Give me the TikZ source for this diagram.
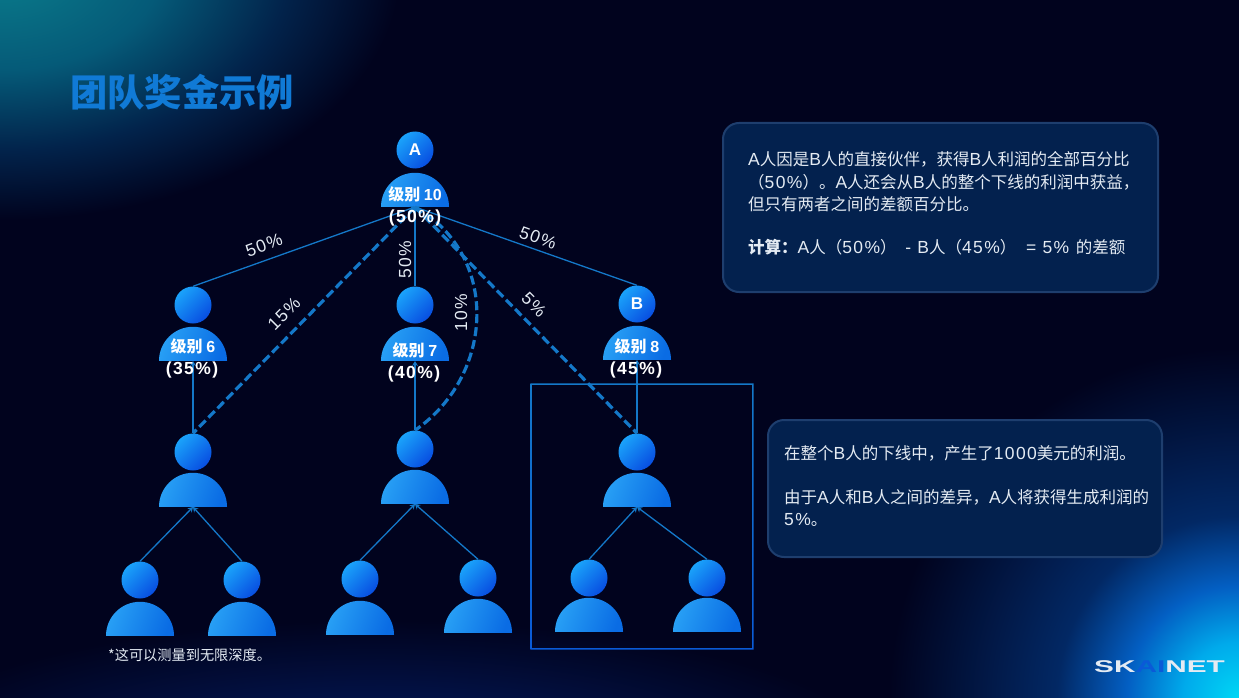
\documentclass[tikz,border=0pt]{standalone}
\usepackage{fontspec}
\usepackage{graphicx}
\usepackage{xcolor}
\usepackage{tikz}
\usetikzlibrary{shapes.geometric, arrows.meta, positioning}
\setmainfont{Noto Sans CJK SC}
\newfontfamily\latfont[Scale=1.06, LetterSpace=8]{Liberation Sans}
\newfontfamily\logofont{Liberation Sans}
\newcommand{\lat}[1]{{\latfont #1}}
\definecolor{pagenavy}{RGB}{1, 3, 30}
\definecolor{linkblue}{RGB}{20, 120, 200}
\definecolor{titleblue}{RGB}{16, 122, 214}
\definecolor{panelfill}{RGB}{3, 33, 78}
\definecolor{panelline}{RGB}{30, 62, 110}
\definecolor{softwhite}{RGB}{228, 235, 243}
\definecolor{headlight}{RGB}{26, 162, 250}
\definecolor{headdark}{RGB}{8, 78, 225}
\definecolor{bodylight}{RGB}{40, 160, 245}
\definecolor{bodydark}{RGB}{10, 108, 228}
\definecolor{logoblue}{RGB}{10, 90, 215}
\definecolor{tealcore}{RGB}{10, 125, 140}
\definecolor{tealmid}{RGB}{5, 90, 120}
\definecolor{tealend}{RGB}{2, 35, 75}
\definecolor{cornercore}{RGB}{0, 215, 245}
\definecolor{cornerone}{RGB}{0, 170, 235}
\definecolor{cornertwo}{RGB}{3, 95, 195}
\definecolor{cornerend}{RGB}{2, 40, 100}
\definecolor{floorcore}{RGB}{6, 40, 120}
\definecolor{floorend}{RGB}{2, 18, 70}
\pgfdeclareradialshading{glowteal}{\pgfpoint{0bp}{0bp}}{
    color(0bp)=(tealcore);
    color(10bp)=(tealmid);
    color(18bp)=(tealend);
    color(25bp)=(pagenavy);
    color(50bp)=(pagenavy)}
\pgfdeclareradialshading{glowcorner}{\pgfpoint{0bp}{0bp}}{
    color(0bp)=(cornercore);
    color(4bp)=(cornerone);
    color(8bp)=(cornertwo);
    color(13bp)=(cornerend);
    color(25bp)=(pagenavy);
    color(50bp)=(pagenavy)}
\pgfdeclareradialshading{glowfloor}{\pgfpoint{0bp}{0bp}}{
    color(0bp)=(floorcore);
    color(12bp)=(floorend);
    color(25bp)=(pagenavy);
    color(50bp)=(pagenavy)}

\begin{document}
\begin{tikzpicture}[
    x=1pt, y=-1pt,
    headnode/.style={circle, minimum size=37pt, inner sep=0pt, top color=headlight,
                     bottom color=headdark, shading angle=45, text=white,
                     font=\logofont\fontsize{17}{17}\selectfont\bfseries},
    bodynode/.style={semicircle, minimum width=68pt, inner sep=0pt, anchor=chord center,
                     top color=bodylight, bottom color=bodydark, shading angle=70},
    link/.style={draw=linkblue, line width=1.3pt},
    dashlink/.style={draw=linkblue, line width=3.2pt, dash pattern=on 9pt off 4pt},
    tip/.style={{Stealth[length=5pt, width=6pt]}-},
    panel/.style={draw=panelline, line width=2pt, fill=panelfill, rounded corners=16pt, anchor=north west},
    panelword/.style={anchor=north west, inner sep=0pt, align=left, text=softwhite,
                      font=\fontsize{16.5}{22.4}\selectfont},
    pct/.style={text=softwhite, inner sep=0pt, font=\latfont\fontsize{16.5}{16.5}\selectfont},
    levelword/.style={text=white, inner sep=0pt, font=\fontsize{16}{16}\selectfont\bfseries},
    shareword/.style={text=white, inner sep=0pt, font=\latfont\fontsize{16.5}{16.5}\selectfont\bfseries}
]
    % Page and glows
    \useasboundingbox (0,0) rectangle (1239,698);
    \fill[pagenavy] (0,0) rectangle (1239,698);
    \begin{scope}
        \clip (0,0) rectangle (1239,698);
        \shade[shading=glowteal] (0,-30) ellipse [x radius=400pt, y radius=250pt];
        \shade[shading=glowfloor] (380,770) ellipse [x radius=520pt, y radius=150pt];
        \shade[shading=glowcorner] (1239,698) ellipse [x radius=350pt, y radius=350pt];
    \end{scope}

    % Title
    \node[anchor=west, inner sep=0pt, text=titleblue, font=\fontsize{37.3}{37.3}\selectfont\bfseries] (title) at (70,92) {团队奖金示例};

    % Panels
    \node[panel, minimum width=435pt, minimum height=169pt] (topcard) at (722,122) {};
    \node[panel, minimum width=394pt, minimum height=137pt] (lowcard) at (767,419) {};
    \node[panelword] (toptext) at (748,151.5) {
        \lat{A}人因是\lat{B}人的直接伙伴，获得\lat{B}人利润的全部百分比\\
        （\lat{50\%}）。\lat{A}人还会从\lat{B}人的整个下线的利润中获益，\\
        但只有两者之间的差额百分比。\\[20.8pt]
        \textbf{计算：}\lat{A}人（\lat{50\%}）\hspace{5pt} \lat{- B}人（\lat{45\%}）\hspace{6pt} \lat{= 5\%}\hspace{3pt} 的差额
    };
    \node[panelword] (lowtext) at (784,445) {
        在整个\lat{B}人的下线中，产生了\lat{1000}美元的利润。\\[21.6pt]
        由于\lat{A}人和\lat{B}人之间的差异，\lat{A}人将获得生成利润的\\
        \lat{5\%}。
    };

    % Frame round the B branch
    \node[minimum width=223pt, minimum height=266pt, inner sep=0pt] (branchbox) at (642,516.5) {};
    \shade[top color=linkblue, bottom color=logoblue, even odd rule]
        (branchbox.north west) rectangle (branchbox.south east)
        ([shift={(1.5pt,-1.5pt)}]branchbox.north west) rectangle ([shift={(-1.5pt,1.5pt)}]branchbox.south east);

    % People: name / x / head y / body base / letter
    \foreach \who/\px/\py/\pb/\letter in {
        a/415/150/207/A, six/193/305/361/{}, seven/415/305/361/{}, bee/637/304/360/B,
        sixkid/193/452/507/{}, sevenkid/415/449/504/{}, beekid/637/452/507/{},
        ga/140/580/636/{}, gb/242/580/636/{}, gc/360/579/635/{}, gd/478/578/633/{},
        ge/589/578/632/{}, gf/707/578/632/{}}{
        \node[bodynode] (\who-base) at (\px,\pb) {};
        \node[headnode] (\who) at (\px,\py) {\letter};
    }

    % Links
    \draw[link, tip] (a-base.chord center) -- (six.north);
    \draw[link, tip] (a-base.chord center) -- (seven.north);
    \draw[link, tip] (a-base.chord center) -- (bee.north);
    \draw[link, tip] (six-base.chord center) -- (sixkid.north);
    \draw[link, tip] (seven-base.chord center) -- (sevenkid.north);
    \draw[link, tip] (bee-base.chord center) -- (beekid.north);
    \foreach \upper/\kid in {sixkid/ga, sixkid/gb, sevenkid/gc, sevenkid/gd, beekid/ge, beekid/gf}
        \draw[link, tip] (\upper-base.chord center) -- (\kid.north);

    % Overrides
    \draw[dashlink] (a-base.chord center) -- (sixkid.north);
    \draw[dashlink] (a-base.chord center) -- (beekid.north);
    \draw[dashlink] (a-base.chord center) .. controls (500,255) and (495,375) .. (sevenkid.north);

    % Level labels
    \node[levelword] (alevel) at (415,194.5) {级别 \logofont 10};
    \node[shareword] (ashare) at (415,218) {(50\%)};
    \node[levelword] (sixlevel) at (193,346.5) {级别 \logofont 6};
    \node[shareword] (sixshare) at (192,370) {(35\%)};
    \node[levelword] (sevenlevel) at (415,350.5) {级别 \logofont 7};
    \node[shareword] (sevenshare) at (414,374) {(40\%)};
    \node[levelword] (beelevel) at (637,346.5) {级别 \logofont 8};
    \node[shareword] (beeshare) at (636,370) {(45\%)};

    % Link percentages
    \node[pct, rotate=20] (pctsix) at (264,245) {50\%};
    \node[pct, rotate=90] (pctseven) at (405,260) {50\%};
    \node[pct, rotate=-20] (pctbee) at (538,238) {50\%};
    \node[pct, rotate=45] (pctsixkid) at (284,314) {15\%};
    \node[pct, rotate=90] (pctsevenkid) at (461,313) {10\%};
    \node[pct, rotate=-45] (pctbeekid) at (534,305) {5\%};

    % Footnote and logo
    \node[anchor=west, inner sep=0pt, text=softwhite, font=\fontsize{14.2}{14.2}\selectfont] (footnote) at (108,655) {*这可以测量到无限深度。};
    \node[anchor=west, inner sep=0pt, font=\logofont\fontsize{17}{17}\selectfont\bfseries] (logo) at (1094,667)
        {\scalebox{1.75}[1]{\textcolor{softwhite}{SK}\textcolor{logoblue}{AI}\textcolor{softwhite}{NET}}};
\end{tikzpicture}
\end{document}
